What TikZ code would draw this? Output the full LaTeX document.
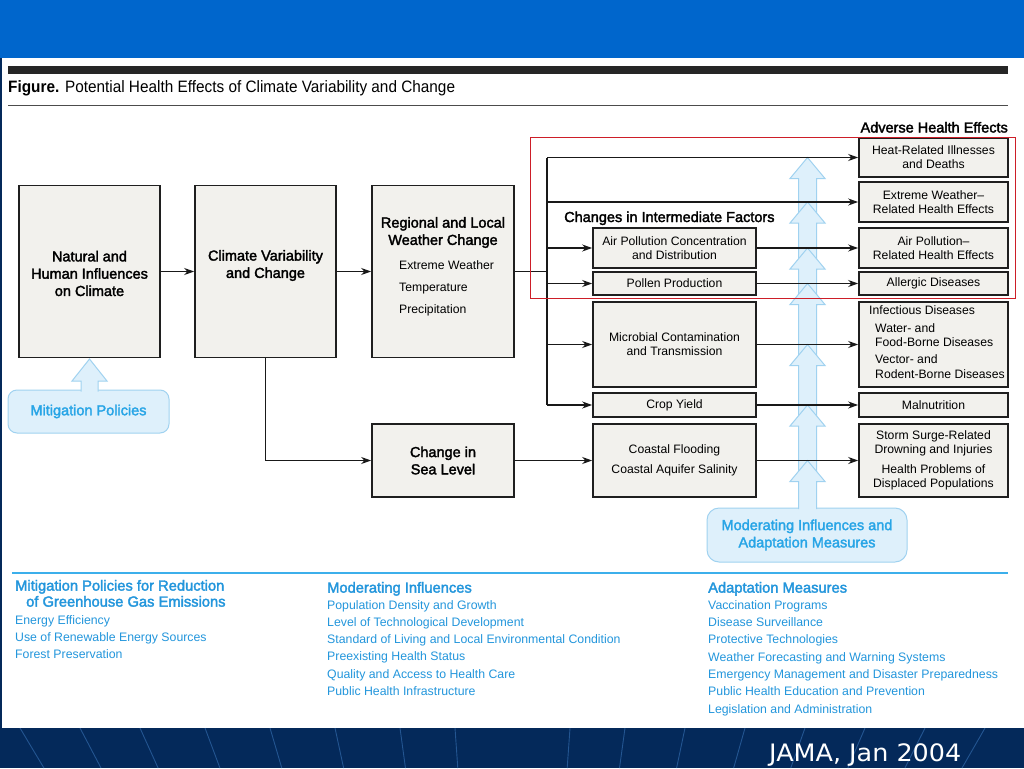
\documentclass[tikz,border=0pt]{standalone}
\usepackage{fontspec}
\setmainfont{Liberation Sans}
\newfontfamily\medf[FakeBold=2.2]{Liberation Sans}
\newfontfamily\condf[FakeStretch=0.93]{Liberation Sans}
\newfontfamily\jamaf[FakeStretch=1.06]{DejaVu Sans}
\usetikzlibrary{arrows.meta}
\definecolor{topblue}{RGB}{0,102,204}
\definecolor{navy}{RGB}{4,41,90}
\definecolor{footline}{RGB}{35,85,145}
\definecolor{boxfill}{RGB}{242,241,237}
\definecolor{arrfill}{RGB}{222,240,251}
\definecolor{arrdraw}{RGB}{160,210,240}
\definecolor{modtxt}{RGB}{40,165,230}
\definecolor{listtxt}{RGB}{35,150,220}
\definecolor{rulec}{RGB}{60,175,235}
\definecolor{redc}{RGB}{205,30,40}
\newcommand\txtsmall{\fontsize{12.2}{13.8}\selectfont}
\newcommand\txtmed{\medf\fontsize{14.5}{17.3}\selectfont}
\newcommand\txtlist{\fontsize{12.3}{17.3}\selectfont}
\begin{document}
\begin{tikzpicture}[x=1pt,y=-1pt,
  box/.style={draw=black!88, fill=boxfill, line width=1.7pt, inner sep=0pt, align=center, font=\txtsmall},
  arr/.style={line width=1.6pt, draw=black!90, -{Stealth[length=10pt,width=7pt]}},
  ln/.style={line width=1.6pt, draw=black!90},
  bluearr/.style={fill=arrfill, draw=arrdraw, line width=1pt},
  txt/.style={inner sep=0pt, align=center},
  lst/.style={inner sep=0pt, anchor=mid west, text=listtxt, font=\txtlist},
  lsthead/.style={inner sep=0pt, anchor=mid west, text=listtxt, font=\medf\fontsize{14.7}{17}\selectfont}]
\useasboundingbox (0,0) rectangle (1024,768);
% slide background
\fill[navy] (0,0) rectangle (1024,768);
\fill[white] (2,58) rectangle (1024,728);
\fill[topblue] (0,0) rectangle (1024,58);
\begin{scope}
  \clip (0,728) rectangle (1024,768);
  \foreach \xx in {20,80,140,205,270,335,400,455,570,625,685,745,805,865,925,985}{
    \pgfmathsetmacro\xe{\xx+(512-\xx)/822*40}
    \draw[footline, line width=0.9pt] (\xx,728) -- (\xe,768);
  }
\end{scope}
\node[anchor=base west, inner sep=0pt, text=white, font=\jamaf\fontsize{24}{26}\selectfont] (jama) at (769,761) {JAMA, Jan 2004};

% header of figure
\fill[black!85] (8,66) rectangle (1008,74);
\node[anchor=base west, inner sep=0pt, font=\condf\fontsize{16.5}{18}\selectfont] (fig) at (8,92) {\textbf{Figure.} Potential Health Effects of Climate Variability and Change};
\draw[black!70, line width=1pt] (8,105) -- (1008,105);

% headings
\node[anchor=base east, inner sep=0pt, font=\txtmed] (adv) at (1008,132.5) {Adverse Health Effects};
\node[anchor=base west, inner sep=0pt, font=\txtmed] (chg) at (564,222) {Changes in Intermediate Factors};

% blue boxes
\node[draw=arrdraw, fill=arrfill, rounded corners=9pt, minimum width=161, minimum height=43, line width=1pt, text=modtxt, font=\txtmed, inner sep=0pt] (mit) at (88.5,411.5) {Mitigation Policies};
\node[draw=arrdraw, fill=arrfill, rounded corners=12pt, minimum width=200, minimum height=54, line width=1pt, text=modtxt, font=\txtmed, align=center, inner sep=0pt] (mod) at (807,535) {Moderating Influences and\\Adaptation Measures};

% mitigation arrow
\filldraw[bluearr] (81,391.5) -- (81,381) -- (72,381) -- (89.5,359) -- (107,381) -- (98,381) -- (98,391.5);

% moderating arrow stack
\foreach \t/\n in {157.5/202, 202/248, 248/283.5, 283.5/344.5, 344.5/405, 405/460.5}{
  \filldraw[bluearr] (798.5,\n+22) -- (798.5,\t+21) -- (790,\t+21) -- (807.5,\t) -- (825,\t+21) -- (816.5,\t+21) -- (816.5,\n+22);
}
\filldraw[bluearr] (798.5,509) -- (798.5,481.5) -- (790,481.5) -- (807.5,460.5) -- (825,481.5) -- (816.5,481.5) -- (816.5,509);

% main boxes
\node[box, minimum width=141, minimum height=172] (nat) at (89.5,271.5) {};
\node[txt, font=\txtmed] (natt) at (89.5,273.5) {Natural and\\Human Influences\\on Climate};
\node[box, minimum width=141, minimum height=172] (clim) at (265.5,271.5) {};
\node[txt, font=\txtmed] (climt) at (265.5,265.5) {Climate Variability\\and Change};
\node[box, minimum width=142, minimum height=172] (reg) at (443,271.5) {};
\node[txt, font=\txtmed] (regt) at (443,232.5) {Regional and Local\\Weather Change};
\foreach \tx/\yy [count=\i] in {Extreme Weather/267, Temperature/289, Precipitation/311}
  \node[inner sep=0pt, anchor=mid west, font=\txtsmall] (regi\i) at (399,\yy) {\tx};
\node[box, minimum width=142, minimum height=73, font=\txtmed] (sea) at (443,460.5) {Change in\\Sea Level};

% intermediate boxes
\node[box, minimum width=163, minimum height=40] (airc) at (674.5,248) {Air Pollution Concentration\\and Distribution};
\node[box, minimum width=163, minimum height=23] (pol) at (674.5,283.5) {Pollen Production};
\node[box, minimum width=163, minimum height=85] (mic) at (674.5,344.5) {Microbial Contamination\\and Transmission};
\node[box, minimum width=163, minimum height=24] (crop) at (674.5,405) {Crop Yield};
\node[box, minimum width=163, minimum height=73] (coast) at (674.5,460.5) {Coastal Flooding\\[6pt]Coastal Aquifer Salinity};

% health effect boxes
\node[box, minimum width=149, minimum height=39] (heat) at (933.5,157.5) {Heat-Related Illnesses\\and Deaths};
\node[box, minimum width=149, minimum height=40] (extw) at (933.5,202) {Extreme Weather--\\Related Health Effects};
\node[box, minimum width=149, minimum height=40] (airh) at (933.5,248) {Air Pollution--\\Related Health Effects};
\node[box, minimum width=149, minimum height=23] (all) at (933.5,283.5) {Allergic Diseases};
\node[box, minimum width=149, minimum height=85] (inf) at (933.5,344.5) {};
\node[inner sep=0pt, anchor=mid west, font=\txtsmall] (inf1) at (869,312) {Infectious Diseases};
\foreach \tx/\yy [count=\i] in {Water- and/330, Food-Borne Diseases/344, Vector- and/361, Rodent-Borne Diseases/376}
  \node[inner sep=0pt, anchor=mid west, font=\txtsmall] (infs\i) at (875,\yy) {\tx};
\node[box, minimum width=149, minimum height=24] (mal) at (933.5,405) {Malnutrition};
\node[box, minimum width=149, minimum height=73] (storm) at (933.5,460.5) {Storm Surge-Related\\Drowning and Injuries\\[6pt]Health Problems of\\Displaced Populations};

% connectors
\coordinate (br) at (547,271.5);
\draw[arr] (nat.east) -- (clim.west);
\draw[arr] (clim.east) -- (reg.west);
\draw[ln] (reg.east) -- (br);
\draw[ln] (br |- heat.west) -- (br |- crop.west);
\draw[arr] (br |- heat.west) -- (heat.west);
\draw[arr] (br |- extw.west) -- (extw.west);
\draw[arr] (br |- airc.west) -- (airc.west);
\draw[arr] (br |- pol.west) -- (pol.west);
\draw[arr] (br |- mic.west) -- (mic.west);
\draw[arr] (br |- crop.west) -- (crop.west);
\draw[arr] (airc.east) -- (airh.west);
\draw[arr] (pol.east) -- (all.west);
\draw[arr] (mic.east) -- (inf.west);
\draw[arr] (crop.east) -- (mal.west);
\draw[arr] (clim.south) |- (sea.west);
\draw[arr] (sea.east) -- (coast.west);
\draw[arr] (coast.east) -- (storm.west);

% red highlight
\draw[redc, line width=1pt] (530,137) rectangle (1015,298);

% bottom lists
\draw[rulec, line width=1.8pt] (12,573) -- (1008,573);
\node[lsthead] (lh1) at (15,588) {Mitigation Policies for Reduction};
\node[lsthead] (lh2) at (26,604) {of Greenhouse Gas Emissions};
\foreach \tx/\yy [count=\i] in {Energy Efficiency/622, Use of Renewable Energy Sources/639, Forest Preservation/656}
  \node[lst] (la\i) at (15,\yy) {\tx};
\node[lsthead] (mh) at (327,590) {Moderating Influences};
\foreach \tx/\yy [count=\i] in {Population Density and Growth/607, Level of Technological Development/624, Standard of Living and Local Environmental Condition/641, Preexisting Health Status/658, Quality and Access to Health Care/676, Public Health Infrastructure/693}
  \node[lst] (ma\i) at (327,\yy) {\tx};
\node[lsthead] (ah) at (708,590) {Adaptation Measures};
\foreach \tx/\yy [count=\i] in {Vaccination Programs/607, Disease Surveillance/624, Protective Technologies/641, Weather Forecasting and Warning Systems/659, Emergency Management and Disaster Preparedness/676, Public Health Education and Prevention/693, Legislation and Administration/711}
  \node[lst] (aa\i) at (708,\yy) {\tx};
\end{tikzpicture}
\end{document}
